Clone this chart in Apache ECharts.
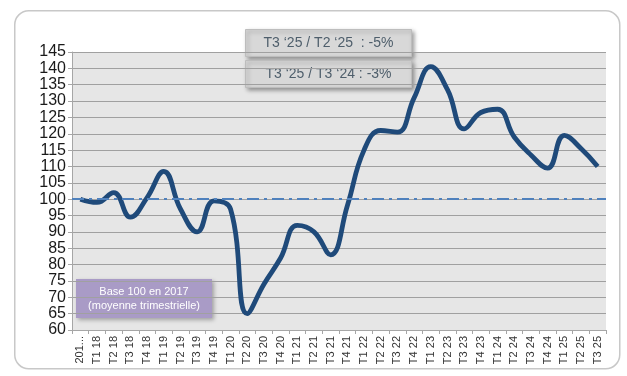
<!DOCTYPE html>
<html><head><meta charset="utf-8">
<script src="https://cdn.jsdelivr.net/npm/echarts@6/dist/echarts.min.js"></script>
<style>html,body{margin:0;padding:0;background:#fff}#c{width:627px;height:376px}</style>
</head><body><div id="c"></div>
<script>
const categories = ["201...","T1 18","T2 18","T3 18","T4 18","T1 19","T2 19","T3 19","T4 19","T1 20","T2 20","T3 20","T4 20","T1 21","T2 21","T3 21","T4 21","T1 22","T2 22","T3 22","T4 22","T1 23","T2 23","T3 23","T4 23","T1 24","T2 24","T3 24","T4 24","T1 25","T2 25","T3 25"];
const indexValues = [100,99,102,94.5,100.5,108.5,97,90,99.5,97,65,74,82,92,90,83,98,115,121,120.5,131,140.5,133.5,121.5,126.5,127.5,119,113.5,109.5,119.5,115.5,110];
const baseLine = 100;
const yTicks = {min:60, max:145, interval:5};
const boxTop = "T3 \u201825 / T2 \u201825  : -5%";
const boxBottom = "T3 \u201825 / T3 \u201824 : -3%";
const baseNote = "Base 100 en 2017\n(moyenne trimestrielle)";

const font = "Liberation Sans Narrow, Liberation Sans, sans-serif";
const chart = echarts.init(document.getElementById('c'), null, {renderer:'canvas'});
chart.setOption({
  backgroundColor:'#fff',
  animation:false,
  grid:{left:72,right:21,top:52,bottom:46,show:true,backgroundColor:'#E6E6E6',borderWidth:0},
  xAxis:{type:'category',data:categories,boundaryGap:true,
    axisLine:{lineStyle:{color:'#A6A6A6'}},
    axisTick:{show:true,length:4,lineStyle:{color:'#A6A6A6'}},
    axisLabel:{rotate:90,interval:0,fontSize:11,color:'#333',fontFamily:font,margin:6}},
  yAxis:{type:'value',min:yTicks.min,max:yTicks.max,interval:yTicks.interval,
    axisLine:{show:true,lineStyle:{color:'#A6A6A6'}},
    axisTick:{show:true,length:4,lineStyle:{color:'#A6A6A6'}},
    splitLine:{lineStyle:{color:'#A0A0A0',width:1}},
    axisLabel:{fontSize:16,color:'#1a1a1a',fontFamily:font,margin:6}},
  series:[{type:'line',data:indexValues,smooth:0.45,symbol:'none',
    lineStyle:{color:'#1F4A7A',width:4.8},
    markLine:{silent:true,symbol:'none',label:{show:false},
      lineStyle:{color:'#4F81BD',width:2,type:[12,5,3,5]},
      data:[{yAxis:baseLine}]}}],
  graphic:[
    {type:'rect',left:14,top:10,z:-10,shape:{width:605,height:358,r:14},style:{fill:'#fff',stroke:'#C8C8C8',lineWidth:1.5}},
    {type:'group',left:245,top:29,z:100,children:[
      {type:'rect',shape:{width:166,height:27},style:{fill:'#D8D8D8',stroke:'#BDBDBD',lineWidth:1,shadowBlur:4,shadowOffsetX:2,shadowOffsetY:2,shadowColor:'rgba(0,0,0,0.35)'}},
      {type:'text',x:83,y:14,style:{text:boxTop,fill:'#4E5E6B',font:'14px '+font,align:'center',verticalAlign:'middle'}}]},
    {type:'group',left:245,top:60,z:100,children:[
      {type:'rect',shape:{width:166,height:27},style:{fill:'#D8D8D8',stroke:'#BDBDBD',lineWidth:1,shadowBlur:4,shadowOffsetX:2,shadowOffsetY:2,shadowColor:'rgba(0,0,0,0.35)'}},
      {type:'text',x:83,y:14,style:{text:boxBottom,fill:'#4E5E6B',font:'14px '+font,align:'center',verticalAlign:'middle'}}]},
    {type:'group',left:76,top:279,z:100,children:[
      {type:'rect',shape:{width:136,height:39},style:{fill:'#A99BC6',shadowBlur:4,shadowOffsetX:2,shadowOffsetY:2,shadowColor:'rgba(0,0,0,0.3)'}},
      {type:'text',x:68,y:20,style:{text:baseNote,fill:'#fff',font:'11px '+font,align:'center',verticalAlign:'middle',lineHeight:14}}]}
  ]
});
</script></body></html>
